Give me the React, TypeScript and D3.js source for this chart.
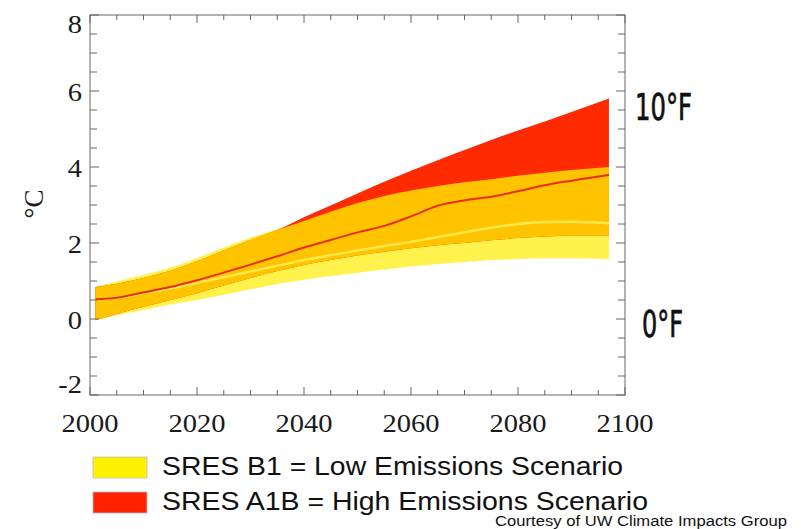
import React from "react";
import * as d3 from "d3";

// projected warming, deg C relative to 1970-1999
const years = [2001, 2005, 2010, 2015, 2020, 2025, 2030, 2035, 2040, 2045, 2050, 2055, 2060, 2065, 2070, 2075, 2080, 2085, 2090, 2097];
const b1Low = [-0.03, 0.1, 0.24, 0.38, 0.5, 0.64, 0.78, 0.92, 1.03, 1.13, 1.22, 1.3, 1.38, 1.45, 1.5, 1.55, 1.58, 1.6, 1.6, 1.57];
const b1High = [0.84, 0.99, 1.16, 1.35, 1.6, 1.88, 2.14, 2.37, 2.58, 2.82, 3.05, 3.24, 3.38, 3.5, 3.6, 3.68, 3.77, 3.85, 3.92, 4.0];
const b1Mean = [0.52, 0.55, 0.68, 0.8, 0.95, 1.1, 1.25, 1.4, 1.55, 1.68, 1.8, 1.92, 2.03, 2.16, 2.28, 2.4, 2.5, 2.55, 2.56, 2.52];
const a1bLow = [-0.03, 0.13, 0.32, 0.5, 0.68, 0.88, 1.08, 1.26, 1.42, 1.55, 1.67, 1.77, 1.86, 1.94, 2.0, 2.07, 2.13, 2.17, 2.2, 2.2];
const a1bHigh = [0.84, 0.93, 1.08, 1.27, 1.52, 1.8, 2.08, 2.34, 2.68, 2.99, 3.3, 3.61, 3.9, 4.18, 4.45, 4.71, 4.96, 5.2, 5.45, 5.8];
const a1bMean = [0.52, 0.56, 0.7, 0.84, 1.02, 1.22, 1.43, 1.65, 1.88, 2.08, 2.28, 2.45, 2.7, 2.98, 3.12, 3.22, 3.36, 3.52, 3.64, 3.79];

const xTickLabels = [2000, 2020, 2040, 2060, 2080, 2100];
const yTickLabels = [-2, 0, 2, 4, 6, 8];
const fahrenheitLabels = ["10°F", "0°F"];
const legendItems = [
  { label: "SRES B1 = Low Emissions Scenario", color: "#fff200" },
  { label: "SRES A1B = High Emissions Scenario", color: "#ff2200" },
];

export default function App() {
  const W = 804;
  const H = 529;
  const left = 90, right = 625, top = 15, bottom = 395;

  const x = d3.scaleLinear().domain([2000, 2100]).range([left, right]);
  const y = d3.scaleLinear().domain([-2, 8]).range([bottom, top]);

  const rows = years.map((yr, i) => ({
    yr,
    b1Low: b1Low[i], b1High: b1High[i], b1Mean: b1Mean[i],
    a1bLow: a1bLow[i], a1bHigh: a1bHigh[i], a1bMean: a1bMean[i],
  }));
  type Row = (typeof rows)[number];

  const band = (lo: (d: Row) => number, hi: (d: Row) => number) =>
    d3.area<Row>().x((d) => x(d.yr)).y0((d) => y(lo(d))).y1((d) => y(hi(d))).curve(d3.curveMonotoneX)(rows) || "";
  const line = (f: (d: Row) => number) =>
    d3.line<Row>().x((d) => x(d.yr)).y((d) => y(f(d))).curve(d3.curveMonotoneX)(rows) || "";

  const b1Path = band((d) => d.b1Low, (d) => d.b1High);
  const a1bPath = band((d) => d.a1bLow, (d) => d.a1bHigh);
  const overlapPath = band((d) => Math.max(d.a1bLow, d.b1Low), (d) => Math.min(d.a1bHigh, d.b1High));

  const xMinor = d3.range(2005, 2100, 5).filter((v) => v % 20 !== 0);
  const yMinor = d3.range(-1.5, 8, 0.5).filter((v) => v % 2 !== 0);
  const axisColor = "#666";
  const serif = "'Liberation Serif', 'Times New Roman', serif";
  const sans = "'Liberation Sans', Arial, sans-serif";

  return (
    <svg width={W} height={H} style={{ position: "absolute", left: 0, top: 0, background: "#fff" }}>
      <path d={b1Path} fill="#fff24c" />
      <path d={a1bPath} fill="#ff2a00" />
      <path d={overlapPath} fill="#ffc300" />
      <path d={line((d) => d.b1Mean)} fill="none" stroke="#ffe94a" strokeWidth={2.5} />
      <path d={line((d) => d.a1bMean)} fill="none" stroke="#e8300e" strokeWidth={2} />

      <rect x={left} y={top} width={right - left} height={bottom - top} fill="none" stroke={axisColor} strokeWidth={1} />

      {xTickLabels.map((v) => (
        <g key={"xM" + v} stroke={axisColor}>
          <line x1={x(v)} x2={x(v)} y1={bottom} y2={bottom - 8} />
          <line x1={x(v)} x2={x(v)} y1={top} y2={top + 8} />
        </g>
      ))}
      {xMinor.map((v) => (
        <g key={"xm" + v} stroke={axisColor}>
          <line x1={x(v)} x2={x(v)} y1={bottom} y2={bottom - 5} />
          <line x1={x(v)} x2={x(v)} y1={top} y2={top + 5} />
        </g>
      ))}
      {yTickLabels.map((v) => (
        <g key={"yM" + v} stroke={axisColor}>
          <line x1={left} x2={left + 9} y1={y(v)} y2={y(v)} />
          <line x1={right} x2={right - 9} y1={y(v)} y2={y(v)} />
        </g>
      ))}
      {yMinor.map((v) => (
        <g key={"ym" + v} stroke={axisColor}>
          <line x1={left} x2={left + 7} y1={y(v)} y2={y(v)} />
          <line x1={right} x2={right - 7} y1={y(v)} y2={y(v)} />
        </g>
      ))}

      {xTickLabels.map((v) => (
        <g key={"xl" + v} transform={`translate(${x(v)},432) scale(1.14,1)`}>
          <text textAnchor="middle" fontFamily={serif} fontSize={25} fill="#1a1a1a">{v}</text>
        </g>
      ))}
      {yTickLabels.map((v) => {
        const cy = Math.min(Math.max(y(v) + 2, top + 9.5), bottom - 10);
        return (
          <g key={"yl" + v} transform={`translate(82,${cy + 8}) scale(1.14,1)`}>
            <text textAnchor="end" fontFamily={serif} fontSize={25} fill="#1a1a1a">{v}</text>
          </g>
        );
      })}
      <text transform="translate(43,204) rotate(-90)" textAnchor="middle" fontFamily={serif} fontSize={27} fill="#1a1a1a">°C</text>

      {fahrenheitLabels.map((f, i) => (
        <text key={f} x={i === 0 ? 635 : 642} y={i === 0 ? 120 : 337}
          fontFamily="'Liberation Sans Narrow', 'DejaVu Sans Condensed', Arial, sans-serif"
          fontSize={37} fill="#111" stroke="#111" strokeWidth={0.7}
          textLength={i === 0 ? 57 : 41} lengthAdjust="spacingAndGlyphs">
          {f}
        </text>
      ))}

      {legendItems.map((it, i) => (
        <g key={it.label} transform={`translate(0,${i * 35})`}>
          <rect x={93} y={457} width={54} height={21} fill={it.color} stroke="#bbb" strokeWidth={0.8} />
          <text x={162} y={475} fontFamily={sans} fontSize={25} fill="#111"
            textLength={i === 0 ? 461 : 486} lengthAdjust="spacingAndGlyphs">
            {it.label}
          </text>
        </g>
      ))}
      <text x={495} y={526} fontFamily={sans} fontSize={14} fill="#111" textLength={292} lengthAdjust="spacingAndGlyphs">
        Courtesy of UW Climate Impacts Group
      </text>
    </svg>
  );
}
